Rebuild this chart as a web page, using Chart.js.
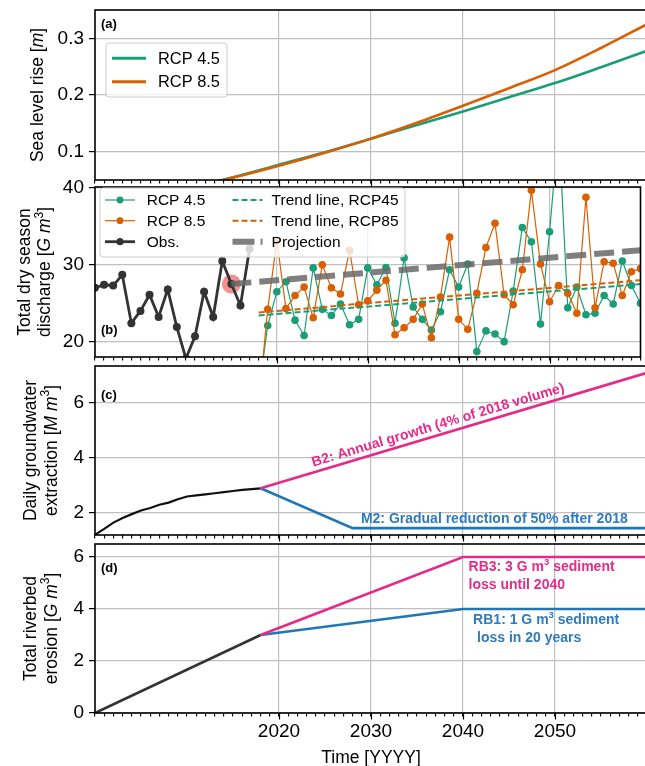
<!DOCTYPE html>
<html><head><meta charset="utf-8">
<script src="https://cdn.jsdelivr.net/npm/chart.js@4/dist/chart.umd.min.js"></script>
<style>
html,body{margin:0;padding:0;background:#fff;overflow:hidden;width:645px;height:766px;}
#wrap{position:relative;width:645px;height:766px;overflow:hidden;background:#fff;}
canvas{position:absolute;left:0;}
</style></head><body><div id="wrap">
<canvas id="pa"></canvas><canvas id="pb"></canvas><canvas id="pc"></canvas><canvas id="pd"></canvas>
</div>
<script>
// ---------------- data ----------------
const xLabelYears = [2020, 2030, 2040, 2050];
const yTicksA = [0.1, 0.2, 0.3];
const yTicksB = [20, 30, 40];
const yTicksC = [2, 4, 6];
const yTicksD = [0, 2, 4, 6];

// (a) sea level rise [m]
const slrYears = [2010, 2015, 2020, 2025, 2030, 2035, 2040, 2045, 2050, 2055, 2060];
const slrRcp45 = [0.035, 0.055, 0.077, 0.099, 0.123, 0.147, 0.171, 0.196, 0.221, 0.249, 0.278];
const slrRcp85 = [0.035, 0.054, 0.075, 0.098, 0.123, 0.151, 0.181, 0.212, 0.244, 0.283, 0.325];

// (b) dry season discharge [G m3]
const obsYears = [2000,2001,2002,2003,2004,2005,2006,2007,2008,2009,2010,2011,2012,2013,2014,2015,2016,2017];
const obsDischarge = [27.0,27.4,27.3,28.7,22.4,24.0,26.1,23.2,26.8,21.9,17.8,20.7,26.5,23.2,30.5,27.5,24.7,32.1];
const rcpYears = [2018,2019,2020,2021,2022,2023,2024,2025,2026,2027,2028,2029,2030,2031,2032,2033,2034,2035,2036,2037,2038,2039,
                  2040,2041,2042,2043,2044,2045,2046,2047,2048,2049,2050,2051,2052,2053,2054,2055,2056,2057,2058,2059,2060];
const dischargeRcp45 = [13.5,22.1,26.5,27.8,22.8,20.8,29.6,24.2,23.4,24.9,22.2,22.9,29.6,27.4,29.65,22.4,30.9,24.5,22.9,21.5,23.9,29.35,
                        27.1,30.1,18.7,21.4,21.0,20.0,26.6,34.85,33.0,22.3,34.3,48.0,24.4,27.1,23.5,23.7,26.0,24.9,30.5,27.3,25.0];
const dischargeRcp85 = [12.0,24.2,33.2,24.3,26.0,27.1,23.1,30.0,27.0,26.2,31.9,24.8,25.3,26.7,28.0,20.9,21.8,22.9,24.9,20.5,25.8,33.6,
                        22.9,21.6,26.3,32.25,35.4,26.1,24.8,29.35,39.7,30.1,25.2,27.3,26.3,23.7,38.8,24.4,30.4,30.2,26.0,29.1,29.5];
const trendYears = [2018, 2060];
const trendRcp45 = [23.4, 27.5];
const trendRcp85 = [23.8, 28.0];
const projectionYears = [2015, 2060];
const projectionValues = [27.5, 31.9];
const highlightYears = [2015];
const highlightValues = [27.5];

// (c) daily groundwater extraction [M m3]
const gwObsYears = [2000,2001,2002,2003,2004,2005,2006,2007,2008,2009,2010,2011,2012,2013,2014,2015,2016,2017,2018];
const gwObs = [1.21,1.42,1.65,1.82,1.96,2.09,2.18,2.3,2.38,2.5,2.6,2.64,2.68,2.72,2.76,2.8,2.84,2.87,2.9];
const gwB2Years = [2018, 2060];
const gwB2 = [2.9, 7.1];
const gwM2Years = [2018, 2028, 2060];
const gwM2 = [2.9, 1.45, 1.45];

// (d) total riverbed erosion [G m3]
const erosionObsYears = [2000, 2018];
const erosionObs = [0, 3.0];
const erosionScenYears = [2018, 2040, 2060];
const erosionRB3 = [3.0, 6.0, 6.0];
const erosionRB1 = [3.0, 4.0, 4.0];

// ---------------- styling helpers ----------------
const FAM = '"Liberation Sans", Arial, Helvetica, sans-serif';
const GREEN = '#1b9e77', ORANGE = '#d95f02', PINK = '#e7298a', BLUE = '#1f77b4';
const GRID = '#c0c0c0';
const TICK_SIZE = 19;
Chart.defaults.font.family = FAM;
function font(size, style, weight) { return [style || '', weight || '', size + 'px', FAM].join(' ').trim(); }
function pts(xs, ys) { return xs.map((x, i) => ({x: x, y: ys[i]})); }

function drawRich(ctx, segs, x, y, angle, align) {
  ctx.save();
  ctx.translate(x, y);
  ctx.rotate(angle || 0);
  ctx.textBaseline = 'middle';
  ctx.textAlign = 'left';
  let total = 0;
  const w = segs.map(s => { ctx.font = s.f; const m = ctx.measureText(s.t).width; total += m; return m; });
  let cx = align === 'center' ? -total / 2 : (align === 'right' ? -total : 0);
  segs.forEach((s, i) => { ctx.font = s.f; ctx.fillStyle = s.c || '#000'; ctx.fillText(s.t, cx, -(s.up || 0)); cx += w[i]; });
  ctx.restore();
}

function drawLegend(ctx, a, L) {
  const x0 = a.left + L.dx, y0 = a.top + L.dy;
  ctx.save();
  ctx.beginPath();
  if (ctx.roundRect) ctx.roundRect(x0, y0, L.w, L.h, 3); else ctx.rect(x0, y0, L.w, L.h);
  ctx.fillStyle = 'rgba(255,255,255,0.8)';
  ctx.fill();
  ctx.strokeStyle = '#cccccc';
  ctx.lineWidth = 1;
  ctx.stroke();
  L.items.forEach(it => {
    const y = y0 + it.row, sx = x0 + it.sx;
    ctx.beginPath();
    ctx.setLineDash(it.dash || []);
    ctx.strokeStyle = it.color;
    ctx.lineWidth = it.width;
    ctx.moveTo(sx, y); ctx.lineTo(sx + it.len, y);
    ctx.stroke();
    ctx.setLineDash([]);
    if (it.marker) {
      ctx.beginPath(); ctx.arc(sx + it.len / 2, y, it.marker, 0, Math.PI * 2);
      ctx.fillStyle = it.color; ctx.fill();
    }
    ctx.font = L.font; ctx.fillStyle = '#000'; ctx.textBaseline = 'middle'; ctx.textAlign = 'left';
    ctx.fillText(it.label, x0 + it.tx, y + 1);
  });
  ctx.restore();
}

function decor(cfg) {
  return {
    id: 'decor_' + cfg.id,
    afterDatasetsDraw(chart) {
      const ctx = chart.ctx, a = chart.chartArea, xs = chart.scales.x;
      ctx.save();
      ctx.strokeStyle = '#000';
      ctx.lineWidth = 1.2;
      xLabelYears.forEach(v => {
        const px = Math.round(xs.getPixelForValue(v)) + 0.5;
        ctx.beginPath(); ctx.moveTo(px, a.bottom); ctx.lineTo(px, a.bottom + 6.5); ctx.stroke();
      });
      ctx.lineWidth = 1.6;
      ctx.strokeRect(a.left, a.top, a.right - a.left, a.bottom - a.top);
      ctx.restore();
      if (cfg.annotate) cfg.annotate(chart, ctx);
      if (cfg.legend) drawLegend(ctx, a, cfg.legend);
      ctx.save();
      ctx.font = font(13, '', 'bold'); ctx.fillStyle = '#000'; ctx.textBaseline = 'middle'; ctx.textAlign = 'left';
      ctx.fillText(cfg.tag, a.left + 6, cfg.tagY(a));
      ctx.restore();
      const cy = (a.top + a.bottom) / 2;
      cfg.yTitle.forEach((line, i) => drawRich(ctx, line, cfg.yTitleX[i], cy, -Math.PI / 2, 'center'));
    }
  };
}

const TF = font(17.5), TFI = font(17.5, 'italic'), TFS = font(12);
function supTitle(pre, it) { return [{t: pre, f: TF}, {t: it, f: TFI}, {t: '3', f: TFS, up: 6}, {t: ']', f: TF}]; }

function makePanel(id, cfg) {
  const canvas = document.getElementById(id);
  const padTop = 20;
  const H = cfg.bottom - cfg.top + padTop + cfg.axisH;
  canvas.width = 650; canvas.height = H;
  canvas.style.width = '650px'; canvas.style.height = H + 'px';
  canvas.style.top = (cfg.top - padTop) + 'px';
  const minorYears = [];
  for (let v = 2000; v <= 2060; v++) minorYears.push(v);
  return new Chart(canvas, {
    type: 'line',
    data: {datasets: cfg.datasets},
    options: {
      responsive: false, animation: false, devicePixelRatio: 1, events: [],
      layout: {padding: {top: padTop, right: 3, left: 0, bottom: 0}},
      plugins: {legend: {display: false}, tooltip: {enabled: false}},
      scales: {
        x: {
          type: 'linear', min: 2000, max: 2060,
          afterBuildTicks: s => { s.ticks = minorYears.map(v => ({value: v})); },
          afterFit: s => { s.height = cfg.axisH; s.paddingLeft = 0; s.paddingRight = 0; },
          grid: {
            color: c => (c.tick && xLabelYears.includes(c.tick.value)) ? GRID : 'rgba(0,0,0,0)',
            lineWidth: 1.2, tickLength: 3.5, tickColor: '#000', tickWidth: 1.1, drawTicks: true
          },
          border: {display: false},
          ticks: {
            display: !!cfg.showX, autoSkip: false, maxRotation: 0, minRotation: 0,
            font: {family: FAM, size: TICK_SIZE}, color: '#000', padding: 4,
            callback: v => xLabelYears.includes(v) ? String(v) : ''
          },
          title: cfg.showX ? {display: true, text: 'Time [YYYY]', color: '#000',
                              font: {family: FAM, size: 17.5}, padding: {top: 0, bottom: 1}} : {display: false}
        },
        y: {
          type: 'linear', min: cfg.ymin, max: cfg.ymax,
          afterBuildTicks: s => { s.ticks = cfg.yTicks.map(v => ({value: v})); },
          afterFit: s => { s.width = 95; s.paddingTop = 0; s.paddingBottom = 0; },
          grid: {color: GRID, lineWidth: 1.2, tickLength: 6, tickColor: '#000', tickWidth: 1.2},
          border: {display: false},
          ticks: {font: {family: FAM, size: TICK_SIZE}, color: '#000', padding: 5, callback: cfg.yFmt}
        }
      }
    },
    plugins: [decor(cfg)]
  });
}

// ---------------- panel (a) ----------------
makePanel('pa', {
  id: 'a', top: 10, bottom: 180, axisH: 30, ymin: 0.05, ymax: 0.35, yTicks: yTicksA,
  yFmt: v => v.toFixed(1),
  datasets: [
    {label: 'RCP 8.5', data: pts(slrYears, slrRcp85), borderColor: ORANGE, borderWidth: 2.6, pointRadius: 0, cubicInterpolationMode: 'monotone', order: 0},
    {label: 'RCP 4.5', data: pts(slrYears, slrRcp45), borderColor: GREEN, borderWidth: 2.6, pointRadius: 0, cubicInterpolationMode: 'monotone', order: 1}
  ],
  tag: '(a)', tagY: a => a.top + 14,
  yTitle: [[{t: 'Sea level rise [', f: TF}, {t: 'm', f: TFI}, {t: ']', f: TF}]], yTitleX: [38],
  legend: {dx: 11, dy: 33, w: 121, h: 54, font: font(16.4), items: [
    {label: 'RCP 4.5', color: GREEN, width: 3, row: 15.3, sx: 6, len: 34, tx: 52},
    {label: 'RCP 8.5', color: ORANGE, width: 3, row: 38.7, sx: 6, len: 34, tx: 52}
  ]}
});

// ---------------- panel (b) ----------------
makePanel('pb', {
  id: 'b', top: 187, bottom: 357, axisH: 30, ymin: 18, ymax: 40.13, yTicks: yTicksB,
  yFmt: v => String(v),
  datasets: [
    {label: 'Projection', data: pts(projectionYears, projectionValues), borderColor: 'rgba(105,105,105,0.85)', borderWidth: 6, borderDash: [20, 8], pointRadius: 0, order: 0},
    {label: 'Trend line, RCP85', data: pts(trendYears, trendRcp85), borderColor: ORANGE, borderWidth: 2, borderDash: [6, 3], pointRadius: 0, order: 1},
    {label: 'Trend line, RCP45', data: pts(trendYears, trendRcp45), borderColor: GREEN, borderWidth: 2, borderDash: [6, 3], pointRadius: 0, order: 2},
    {label: 'RCP 8.5', data: pts(rcpYears, dischargeRcp85), borderColor: ORANGE, borderWidth: 1.2, pointRadius: 3.8, pointBorderWidth: 0, pointBackgroundColor: ORANGE, order: 3},
    {label: 'RCP 4.5', data: pts(rcpYears, dischargeRcp45), borderColor: GREEN, borderWidth: 1.2, pointRadius: 3.8, pointBorderWidth: 0, pointBackgroundColor: GREEN, order: 4},
    {label: 'Obs.', data: pts(obsYears, obsDischarge), borderColor: '#333333', borderWidth: 2.8, pointRadius: 4, pointBorderWidth: 0, pointBackgroundColor: '#333333', order: 5},
    {label: 'Start', data: pts(highlightYears, highlightValues), showLine: false, pointRadius: 9.5, pointBorderWidth: 0, pointBackgroundColor: 'rgba(238,70,70,0.6)', order: 6}
  ],
  tag: '(b)', tagY: a => a.bottom - 27,
  yTitle: [[{t: 'Total dry season', f: TF}], supTitle('discharge [', 'G m')], yTitleX: [25, 45.5],
  legend: {dx: 5, dy: 1, w: 305, h: 69, font: font(15.5), items: [
    {label: 'RCP 4.5', color: GREEN, width: 1.2, marker: 3.4, row: 12, sx: 5, len: 30, tx: 46.7},
    {label: 'RCP 8.5', color: ORANGE, width: 1.2, marker: 3.4, row: 32.7, sx: 5, len: 30, tx: 46.7},
    {label: 'Obs.', color: '#333333', width: 2.8, marker: 3.6, row: 53.7, sx: 5, len: 30, tx: 46.7},
    {label: 'Trend line, RCP45', color: GREEN, width: 2, dash: [6, 3], row: 12, sx: 132.5, len: 30, tx: 171.6},
    {label: 'Trend line, RCP85', color: ORANGE, width: 2, dash: [6, 3], row: 32.7, sx: 132.5, len: 30, tx: 171.6},
    {label: 'Projection', color: 'rgba(105,105,105,0.85)', width: 6, dash: [22, 6], row: 53.7, sx: 132.5, len: 30, tx: 171.6}
  ]}
});

// ---------------- panel (c) ----------------
makePanel('pc', {
  id: 'c', top: 366, bottom: 535, axisH: 30, ymin: 1.2, ymax: 7.35, yTicks: yTicksC,
  yFmt: v => String(v),
  datasets: [
    {label: 'B2', data: pts(gwB2Years, gwB2), borderColor: PINK, borderWidth: 2.6, pointRadius: 0, order: 0},
    {label: 'M2', data: pts(gwM2Years, gwM2), borderColor: BLUE, borderWidth: 2.6, pointRadius: 0, order: 1},
    {label: 'Observed', data: pts(gwObsYears, gwObs), borderColor: '#111111', borderWidth: 2.2, pointRadius: 0, order: 2}
  ],
  tag: '(c)', tagY: a => a.top + 29,
  yTitle: [[{t: 'Daily groundwater', f: TF}], supTitle('extraction [', 'M m')], yTitleX: [31, 52],
  annotate: (chart, ctx) => {
    const xs = chart.scales.x, ys = chart.scales.y;
    const x1 = xs.getPixelForValue(gwB2Years[0]), y1 = ys.getPixelForValue(gwB2[0]);
    const x2 = xs.getPixelForValue(gwB2Years[1]), y2 = ys.getPixelForValue(gwB2[1]);
    const ang = Math.atan2(y2 - y1, x2 - x1);
    const t = (2037.6 - gwB2Years[0]) / (gwB2Years[1] - gwB2Years[0]);
    const cx = x1 + (x2 - x1) * t + Math.sin(ang) * 9.5, cy = y1 + (y2 - y1) * t - Math.cos(ang) * 9.5;
    drawRich(ctx, [{t: 'B2: Annual growth (4% of 2018 volume)', f: font(14, '', 'bold'), c: PINK}], cx, cy, ang, 'center');
    drawRich(ctx, [{t: 'M2: Gradual reduction of 50% after 2018', f: font(14, '', 'bold'), c: '#2f7bbd'}],
             xs.getPixelForValue(2028.9), ys.getPixelForValue(gwM2[2]) - 9, 0, 'left');
  }
});

// ---------------- panel (d) ----------------
makePanel('pd', {
  id: 'd', top: 544, bottom: 713, axisH: 57, ymin: 0, ymax: 6.5, yTicks: yTicksD, showX: true,
  yFmt: v => String(v),
  datasets: [
    {label: 'RB3', data: pts(erosionScenYears, erosionRB3), borderColor: PINK, borderWidth: 2.6, pointRadius: 0, order: 0},
    {label: 'RB1', data: pts(erosionScenYears, erosionRB1), borderColor: BLUE, borderWidth: 2.6, pointRadius: 0, order: 1},
    {label: 'Observed', data: pts(erosionObsYears, erosionObs), borderColor: '#333333', borderWidth: 2.6, pointRadius: 0, order: 2}
  ],
  tag: '(d)', tagY: a => a.top + 24,
  yTitle: [[{t: 'Total riverbed', f: TF}], supTitle('erosion [', 'G m')], yTitleX: [31, 52],
  annotate: (chart, ctx) => {
    const xs = chart.scales.x, ys = chart.scales.y;
    const FB = font(14, '', 'bold'), FBS = font(9.5, '', 'bold');
    const yRB3 = ys.getPixelForValue(erosionRB3[2]), yRB1 = ys.getPixelForValue(erosionRB1[2]);
    const xRB3 = xs.getPixelForValue(2040.6), xRB1 = xs.getPixelForValue(2041.1);
    drawRich(ctx, [{t: 'RB3: 3 G m', f: FB, c: PINK}, {t: '3', f: FBS, c: PINK, up: 5}, {t: ' sediment', f: FB, c: PINK}], xRB3, yRB3 + 10.5, 0, 'left');
    drawRich(ctx, [{t: 'loss until 2040', f: FB, c: PINK}], xRB3, yRB3 + 28.5, 0, 'left');
    const BT = '#2f7bbd';
    drawRich(ctx, [{t: 'RB1: 1 G m', f: FB, c: BT}, {t: '3', f: FBS, c: BT, up: 5}, {t: ' sediment', f: FB, c: BT}], xRB1, yRB1 + 11.5, 0, 'left');
    drawRich(ctx, [{t: ' loss in 20 years', f: FB, c: BT}], xRB1, yRB1 + 29.5, 0, 'left');
  }
});
</script>
</body></html>
